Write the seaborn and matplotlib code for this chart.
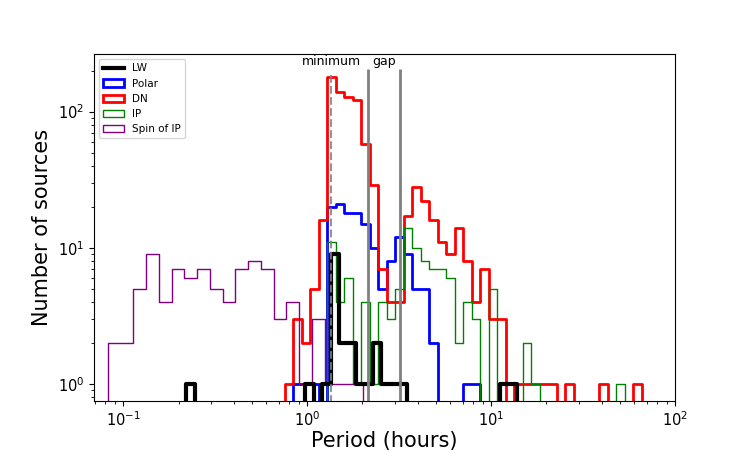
import numpy as np
import matplotlib
matplotlib.use("Agg")
import matplotlib.pyplot as plt
from matplotlib.lines import Line2D
from matplotlib.patches import Patch
import seaborn as sns

# bin ranges (hours) and counts
# DN, Polar and IP share one set of log bins
shared_lo, shared_hi, shared_n = 0.755, 65.9, 42
dn_counts = [1, 3, 2, 5, 16, 180, 139, 128, 122, 58, 29, 7, 4, 4, 17, 28, 22, 16, 11, 9,
             14, 8, 4, 7, 3, 3, 0, 1, 1, 1, 1, 1, 0, 1, 0, 0, 0, 1, 0, 0, 0, 1]
polar_counts = [0, 1, 1, 1, 0, 20, 21, 18, 18, 15, 10, 5, 8, 12, 9, 5, 5, 2, 0, 0,
                0, 1, 1, 0, 0, 0, 0, 0, 0, 0, 0, 0, 0, 0, 0, 0, 0, 0, 0, 0, 0, 0]
ip_counts = [0, 0, 0, 0, 0, 11, 4, 6, 1, 4, 1, 4, 3, 5, 14, 10, 8, 7, 7, 6,
             2, 4, 3, 0, 5, 0, 0, 0, 2, 1, 0, 0, 0, 0, 0, 0, 0, 0, 0, 1, 0, 0]

lw_lo, lw_hi, lw_n = 0.220, 13.9, 39
lw_counts = [1, 0, 0, 0, 0, 0, 0, 0, 0, 0, 0, 0, 0, 0, 1, 0, 1, 9, 2, 2,
             1, 1, 2, 1, 1, 1, 0, 0, 0, 0, 0, 0, 0, 0, 0, 0, 0, 1, 1]

spin_lo, spin_hi, spin_n = 0.0825, 2.012, 20
spin_counts = [2, 2, 5, 9, 4, 7, 6, 7, 5, 4, 7, 8, 7, 3, 4, 1, 3, 1, 1, 1]

p_min = 1.35            # period minimum (h)
gap_lo, gap_hi = 2.15, 3.18   # period gap (h)


def step_hist(ax, lo, hi, n, counts, **kw):
    # log10 bin edges, padded with one empty bin each side so the outline drops to the axis
    e = np.linspace(np.log10(lo), np.log10(hi), n + 1)
    w = e[1] - e[0]
    e = np.concatenate([[e[0] - w], e, [e[-1] + w]])
    c = np.concatenate([[0], counts, [0]])
    centres = 10 ** ((e[:-1] + e[1:]) / 2)
    sns.histplot(x=centres, weights=c, bins=e.tolist(), log_scale=True, element="step",
                 fill=False, ax=ax, **kw)


fig, ax = plt.subplots(figsize=(7.5, 4.5), dpi=100)

step_hist(ax, shared_lo, shared_hi, shared_n, polar_counts, color="blue", linewidth=2)
step_hist(ax, shared_lo, shared_hi, shared_n, dn_counts, color="red", linewidth=2)
step_hist(ax, shared_lo, shared_hi, shared_n, ip_counts, color="green", linewidth=1)
step_hist(ax, spin_lo, spin_hi, spin_n, spin_counts, color="purple", linewidth=1)
step_hist(ax, lw_lo, lw_hi, lw_n, lw_counts, color="black", linewidth=3)

ax.set_yscale("log")
ax.set_xlim(0.0692, 100)
ax.set_ylim(0.754, 265)

ax.vlines(p_min, 0.5, 190, colors="gray", linestyles="--", linewidth=1.5, alpha=0.85)
ax.vlines([gap_lo, gap_hi], 0.5, 205, colors="gray", linewidth=2)
ax.text(p_min, 220, "minimum", ha="center", va="baseline", fontsize=9)
ax.text(np.sqrt(gap_lo * gap_hi), 220, "gap", ha="center", va="baseline", fontsize=9)

ax.set_xlabel("Period (hours)", fontsize=15, labelpad=1.5)
ax.set_ylabel("Number of sources", fontsize=15)
ax.tick_params(axis="both", which="major", labelsize=10.5)

handles = [
    Line2D([], [], color="black", linewidth=3),
    Patch(facecolor="none", edgecolor="blue", linewidth=2),
    Patch(facecolor="none", edgecolor="red", linewidth=2),
    Patch(facecolor="none", edgecolor="green", linewidth=1),
    Patch(facecolor="none", edgecolor="purple", linewidth=1),
]
ax.legend(handles, ["LW", "Polar", "DN", "IP", "Spin of IP"], loc="upper left", fontsize=7.5)

fig.savefig("out.png", dpi=100)
